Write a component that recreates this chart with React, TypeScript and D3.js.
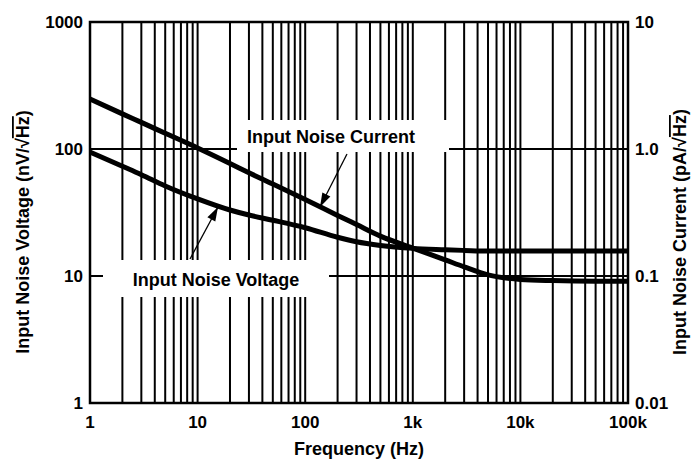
import React from 'react';
import * as d3 from 'd3';

// frequency points (Hz)
const freq = [1, 2, 3, 5, 10, 20, 30, 50, 100, 200, 300, 500, 1000, 2000, 3000, 5000, 10000, 20000, 50000, 100000];
// input noise voltage (nV/rtHz), left axis
const voltage = [94.6, 73.1, 62.8, 51.2, 40.5, 33.1, 30.2, 27.5, 24.0, 20.2, 18.6, 17.4, 16.5, 16.1, 15.9, 15.7, 15.7, 15.7, 15.7, 15.7];
// input noise current (pA/rtHz), right axis
const current = [2.48, 1.89, 1.62, 1.33, 1.02, 0.77, 0.65, 0.53, 0.40, 0.30, 0.254, 0.206, 0.166, 0.134, 0.118, 0.102, 0.094, 0.092, 0.091, 0.091];

const xTicks = [1, 10, 100, 1000, 10000, 100000];
const xTickLabels = ['1', '10', '100', '1k', '10k', '100k'];
const leftTicks = [1, 10, 100, 1000];
const leftTickLabels = ['1', '10', '100', '1000'];
const rightTicks = [0.01, 0.1, 1, 10];
const rightTickLabels = ['0.01', '0.1', '1.0', '10'];

const W = 691;
const H = 462;
const m = { left: 90, right: 628, top: 22, bottom: 403 };
const font = '"Liberation Sans", Arial, sans-serif';

function arrowHead(x0: number, y0: number, x1: number, y1: number, len = 14, half = 4.5) {
  const a = Math.atan2(y1 - y0, x1 - x0);
  const bx = x1 - len * Math.cos(a);
  const by = y1 - len * Math.sin(a);
  const px = -Math.sin(a) * half;
  const py = Math.cos(a) * half;
  return `${x1},${y1} ${bx + px},${by + py} ${bx - px},${by - py}`;
}

export default function App() {
  const x = d3.scaleLog().domain([1, 1e5]).range([m.left, m.right]);
  const yL = d3.scaleLog().domain([1, 1000]).range([m.bottom, m.top]);
  const yR = d3.scaleLog().domain([0.01, 10]).range([m.bottom, m.top]);

  const minor: number[] = [];
  for (let d = 1; d < 1e5; d *= 10) {
    for (let k = 2; k <= 9; k++) minor.push(d * k);
    if (d > 1) minor.push(d);
  }

  const vLine = d3.line<number>()
    .x((_, i) => x(freq[i]))
    .y(d => yL(d))
    .curve(d3.curveMonotoneX);
  const iLine = d3.line<number>()
    .x((_, i) => x(freq[i]))
    .y(d => yR(d))
    .curve(d3.curveMonotoneX);

  // annotation arrows
  const curArrow = { x0: 347, y0: 154, x1: 320, y1: 207 };
  const volArrow = { x0: 190, y0: 259, x1: 218, y1: 207 };
  const titleY = 232;

  return (
    <svg width={W} height={H} style={{ position: 'absolute', left: 0, top: 0, background: '#fff' }} fontFamily={font} fontWeight="bold">
      <rect x={0} y={0} width={W} height={H} fill="#fff" />
      {minor.map(f => (
        <line key={'v' + f} x1={x(f)} x2={x(f)} y1={m.top} y2={m.bottom} stroke="#000" strokeWidth={2} />
      ))}
      {[10, 100].map(v => (
        <line key={'h' + v} x1={m.left} x2={m.right} y1={yL(v)} y2={yL(v)} stroke="#000" strokeWidth={2} />
      ))}
      {/* label backgrounds */}
      <rect x={237} y={120} width={212} height={32} fill="#fff" />
      <rect x={103} y={260} width={226} height={37} fill="#fff" />
      <rect x={m.left} y={m.top} width={m.right - m.left} height={m.bottom - m.top} fill="none" stroke="#000" strokeWidth={2.5} />

      <path d={vLine(voltage) || ''} fill="none" stroke="#000" strokeWidth={5} />
      <path d={iLine(current) || ''} fill="none" stroke="#000" strokeWidth={5} />

      <text x={331} y={143} fontSize={18} textAnchor="middle">Input Noise Current</text>
      <text x={216} y={286} fontSize={18} textAnchor="middle">Input Noise Voltage</text>

      {[curArrow, volArrow].map((a, i) => (
        <g key={'a' + i}>
          <line x1={a.x0} y1={a.y0} x2={a.x1} y2={a.y1} stroke="#000" strokeWidth={1.3} />
          <polygon points={arrowHead(a.x0, a.y0, a.x1, a.y1)} fill="#000" />
        </g>
      ))}

      {xTicks.map((t, i) => (
        <text key={'xt' + t} x={x(t)} y={428} fontSize={17} textAnchor="middle">{xTickLabels[i]}</text>
      ))}
      {leftTicks.map((t, i) => (
        <text key={'lt' + t} x={83} y={yL(t) + 6} fontSize={17} textAnchor="end">{leftTickLabels[i]}</text>
      ))}
      {rightTicks.map((t, i) => (
        <text key={'rt' + t} x={635} y={yR(t) + 6} fontSize={17} textAnchor="start">{rightTickLabels[i]}</text>
      ))}

      <text x={(m.left + m.right) / 2} y={455} fontSize={18} textAnchor="middle">Frequency (Hz)</text>
      <text transform={`translate(29,${titleY}) rotate(-90)`} fontSize={18} textAnchor="middle">
        Input Noise Voltage (nV/√<tspan style={{ textDecoration: 'overline' }}>Hz</tspan>)
      </text>
      <text transform={`translate(686,${titleY}) rotate(-90)`} fontSize={18} textAnchor="middle">
        Input Noise Current (pA/√<tspan style={{ textDecoration: 'overline' }}>Hz</tspan>)
      </text>
    </svg>
  );
}
